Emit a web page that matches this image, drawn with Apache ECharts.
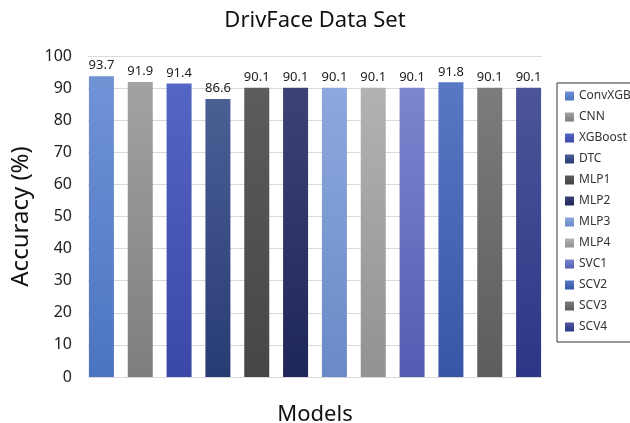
<!DOCTYPE html>
<html><head><meta charset="utf-8">
<script src="https://cdn.jsdelivr.net/npm/echarts@6/dist/echarts.min.js"></script>
<style>html,body{margin:0;padding:0;background:#fff}#c{width:630px;height:423px}</style>
</head><body><div id="c"></div>
<script>
const models = ['ConvXGB','CNN','XGBoost','DTC','MLP1','MLP2','MLP3','MLP4','SVC1','SCV2','SCV3','SCV4'];
const accuracy = [93.7, 91.9, 91.4, 86.6, 90.1, 90.1, 90.1, 90.1, 90.1, 91.8, 90.1, 90.1];
const yTicks = [0,10,20,30,40,50,60,70,80,90,100];
const topColors = ['#7193d6','#a2a2a2','#5565c4','#4a5f94','#5c5c5c','#3c4274','#8ca8de','#b2b2b2','#7c85ce','#5878c4','#7c7c7c','#4c5599'];
const botColors = ['#4b74c0','#7e7e7e','#3a48a8','#283c74','#464646','#1f265a','#6a8ac6','#929292','#525db2','#3757a6','#5d5d5d','#2c3686'];
const FONT = 'Noto Sans';

const chart = echarts.init(document.getElementById('c'), null, {renderer:'canvas'});
const series = models.map((m, i) => ({
  name: m,
  type: 'bar',
  xAxisIndex: 0, yAxisIndex: 0,
  barWidth: 25,
  barGap: '-100%',
  itemStyle: {
    color: new echarts.graphic.LinearGradient(0,0,0,1,[{offset:0,color:topColors[i]},{offset:1,color:botColors[i]}])
  },
  label: {show:true, position:'top', distance:4, color:'#222', fontSize:13, fontFamily:FONT},
  data: models.map((_, j) => j === i ? accuracy[i] : null)
}));

chart.setOption({
  animation:false,
  backgroundColor:'#fff',
  title:{text:'DrivFace Data Set', left:'center', top:5, textStyle:{fontFamily:FONT, fontSize:22, fontWeight:'normal', color:'#111'}},
  legend:{
    orient:'vertical', left:557, top:83, data:models,
    icon:'rect', itemWidth:9, itemHeight:9, itemGap:9,
    borderColor:'#333', borderWidth:1, padding:[7,20,9,8],
    textStyle:{fontFamily:FONT, fontSize:12, color:'#333'}
  },
  grid:[
    {left:82, right:82, top:56, bottom:46, outerBoundsMode:'none', containLabel:false},
    {left:88, right:88, top:56, bottom:46, outerBoundsMode:'none', containLabel:false}
  ],
  xAxis:[
    {type:'category', gridIndex:0, data:models, axisLabel:{show:false}, axisTick:{show:false},
     axisLine:{show:false},
     name:'Models', nameLocation:'middle', nameGap:27, nameTextStyle:{fontFamily:FONT, fontSize:22, color:'#111'}},
    {type:'value', gridIndex:1, min:0, max:1, show:false}
  ],
  yAxis:[
    {type:'value', gridIndex:0, min:0, max:100, interval:10, show:false},
    {type:'value', gridIndex:1, min:0, max:100, interval:10,
     axisLabel:{fontFamily:FONT, fontSize:16, color:'#222', margin:16},
     axisLine:{show:false}, axisTick:{show:false},
     splitLine:{lineStyle:{color:'#d9d9d9'}},
     name:'Accuracy (%)', nameLocation:'middle', nameGap:55, nameTextStyle:{fontFamily:FONT, fontSize:24, color:'#111'}}
  ],
  series: series.concat([{type:'line', xAxisIndex:1, yAxisIndex:1, data:[], silent:true}])
});
</script></body></html>
